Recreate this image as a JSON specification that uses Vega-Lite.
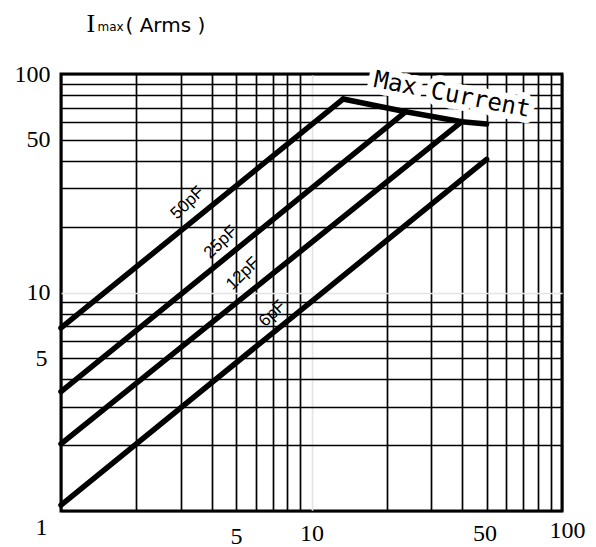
{
  "$schema": "https://vega.github.io/schema/vega-lite/v6.json",
  "autosize": {"type": "none"},
  "padding": {"left": 61, "top": 74, "right": 34, "bottom": 36},
  "width": 501,
  "height": 437,
  "background": "white",
  "config": {
    "view": {"stroke": "black", "strokeWidth": 3},
    "axis": {"labelColor": "black", "titleColor": "black"}
  },
  "datasets": {
    "curves": [
      {"series": "50pF", "f": 1, "i": 6.88},
      {"series": "50pF", "f": 13.36, "i": 76.8},
      {"series": "25pF", "f": 1, "i": 3.52},
      {"series": "25pF", "f": 23.8, "i": 67.2},
      {"series": "12pF", "f": 1, "i": 2.03},
      {"series": "12pF", "f": 39.8, "i": 60.5},
      {"series": "6pF", "f": 1, "i": 1.065},
      {"series": "6pF", "f": 50, "i": 40.7},
      {"series": "Max", "f": 13.36, "i": 76.8},
      {"series": "Max", "f": 23.8, "i": 67.2},
      {"series": "Max", "f": 39.8, "i": 60.5},
      {"series": "Max", "f": 50, "i": 59.0}
    ],
    "labels": [
      {"kind": "cap", "label": "50pF", "f": 3.2, "i": 25.7},
      {"kind": "cap", "label": "25pF", "f": 4.34, "i": 17.0},
      {"kind": "cap", "label": "12pF", "f": 5.32, "i": 12.2},
      {"kind": "cap", "label": "6pF", "f": 6.98, "i": 8.0},
      {"kind": "max", "label": "Max Current", "f": 36.4, "i": 80.2}
    ]
  },
  "layer": [
    {
      "data": {"name": "curves"},
      "mark": {"type": "line", "color": "black", "strokeWidth": 5.5, "strokeCap": "round", "strokeJoin": "miter"},
      "encoding": {
        "x": {
          "field": "f", "type": "quantitative",
          "scale": {"type": "log", "domain": [1, 100], "nice": false},
          "axis": {
            "orient": "bottom", "title": null,
            "values": [1, 2, 3, 4, 5, 6, 7, 8, 9, 10, 20, 30, 40, 50, 60, 70, 80, 90, 100],
            "grid": true,
            "gridColor": {"condition": {"test": "datum.value == 10", "value": "#e4e4e4"}, "value": "black"},
            "gridWidth": 1.7,
            "ticks": false, "tickSize": 0, "domain": false,
            "labelExpr": "(datum.value == 5 || datum.value == 10 || datum.value == 50 || datum.value == 100) ? format(datum.value, 'd') : ''",
            "labelFont": "Liberation Serif", "labelFontSize": 24,
            "labelFlush": false, "labelOverlap": false, "labelBound": false,
            "labelBaseline": "middle", "labelAlign": "center",
            "labelPadding": {"condition": [{"test": "datum.value == 5", "value": 25}, {"test": "datum.value == 100", "value": 19}], "value": 22},
            "labelOffset": {"condition": [{"test": "datum.value == 50", "value": -2}, {"test": "datum.value == 100", "value": 5}], "value": 0}
          }
        },
        "y": {
          "field": "i", "type": "quantitative",
          "scale": {"type": "log", "domain": [1, 100], "nice": false},
          "axis": {
            "orient": "left",
            "title": "I",
            "titleFont": "Liberation Serif", "titleFontSize": 26, "titleFontWeight": "normal",
            "titleAngle": 0, "titleAlign": "left", "titleBaseline": "alphabetic",
            "titleX": 25, "titleY": -43,
            "values": [1, 2, 3, 4, 5, 6, 7, 8, 9, 10, 20, 30, 40, 50, 60, 70, 80, 90, 100],
            "grid": true,
            "gridColor": {"condition": {"test": "datum.value == 10", "value": "#e4e4e4"}, "value": "black"},
            "gridWidth": 1.7,
            "ticks": false, "tickSize": 0, "domain": false,
            "labelExpr": "(datum.value == 1 || datum.value == 5 || datum.value == 10 || datum.value == 50 || datum.value == 100) ? format(datum.value, 'd') : ''",
            "labelFont": "Liberation Serif", "labelFontSize": 24,
            "labelFlush": false, "labelOverlap": false, "labelBound": false,
            "labelBaseline": "middle", "labelAlign": "right",
            "labelPadding": {"condition": [{"test": "datum.value == 1", "value": 14}, {"test": "datum.value == 5", "value": 14}], "value": 11},
            "labelOffset": {"condition": {"test": "datum.value == 1", "value": 16}, "value": 0}
          }
        },
        "detail": {"field": "series", "type": "nominal"}
      }
    },
    {
      "data": {"name": "labels"},
      "transform": [{"filter": "datum.kind == 'cap'"}],
      "mark": {"type": "text", "font": "Liberation Sans", "fontSize": 17, "angle": -44, "align": "center", "baseline": "middle", "color": "black"},
      "encoding": {
        "x": {
          "field": "f", "type": "quantitative",
          "scale": {"type": "log", "domain": [1, 100], "nice": false},
          "axis": {
            "orient": "top", "title": "max",
            "titleFont": "DejaVu Sans", "titleFontSize": 12, "titleFontWeight": "normal",
            "titleAngle": 0, "titleAlign": "left", "titleBaseline": "alphabetic",
            "titleX": 36, "titleY": -44,
            "labels": false, "ticks": false, "domain": false, "grid": false
          }
        },
        "y": {
          "field": "i", "type": "quantitative",
          "scale": {"type": "log", "domain": [1, 100], "nice": false},
          "axis": {
            "orient": "right", "title": "( Arms )",
            "titleFont": "DejaVu Sans", "titleFontSize": 20, "titleFontWeight": "normal",
            "titleAngle": 0, "titleAlign": "left", "titleBaseline": "alphabetic",
            "titleX": -437, "titleY": -43,
            "labels": false, "ticks": false, "domain": false, "grid": false
          }
        },
        "text": {"field": "label", "type": "nominal"}
      }
    },
    {
      "data": {"name": "labels"},
      "transform": [{"filter": "datum.kind == 'max'"}],
      "mark": {"type": "text", "font": "DejaVu Sans Mono", "fontSize": 24, "angle": 11, "align": "center", "baseline": "middle", "color": "white", "stroke": "white", "strokeWidth": 13, "strokeJoin": "round"},
      "encoding": {
        "x": {"field": "f", "type": "quantitative", "scale": {"type": "log", "domain": [1, 100], "nice": false}, "axis": null},
        "y": {"field": "i", "type": "quantitative", "scale": {"type": "log", "domain": [1, 100], "nice": false}, "axis": null},
        "text": {"field": "label", "type": "nominal"}
      }
    },
    {
      "data": {"name": "labels"},
      "transform": [{"filter": "datum.kind == 'max'"}],
      "mark": {"type": "text", "font": "DejaVu Sans Mono", "fontSize": 24, "angle": 11, "align": "center", "baseline": "middle", "color": "black"},
      "encoding": {
        "x": {"field": "f", "type": "quantitative", "scale": {"type": "log", "domain": [1, 100], "nice": false}, "axis": null},
        "y": {"field": "i", "type": "quantitative", "scale": {"type": "log", "domain": [1, 100], "nice": false}, "axis": null},
        "text": {"field": "label", "type": "nominal"}
      }
    }
  ],
  "resolve": {"axis": {"x": "independent", "y": "independent"}}
}
